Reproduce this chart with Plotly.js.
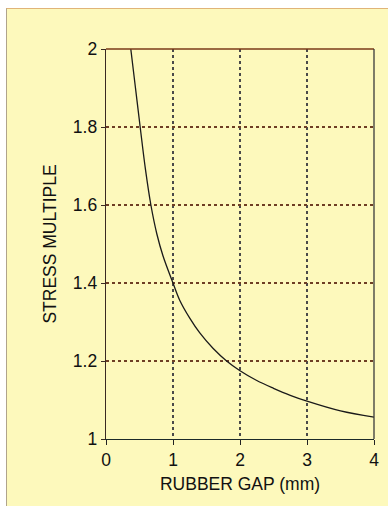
<!DOCTYPE html>
<html>
<head>
<meta charset="utf-8">
<script src="https://cdn.plot.ly/plotly-3.0.1.min.js"></script>
<style>
html,body{margin:0;padding:0;background:#ffffff;width:388px;height:506px;overflow:hidden;}
#chart{position:absolute;left:6px;top:8px;width:381px;height:497px;border-left:1px solid #b0a48c;border-top:1px solid #e0b478;}
</style>
</head>
<body>
<div id="chart"></div>
<script>
// Rubber gap (mm) vs stress multiple
const gap = [0.37, 0.44, 0.51, 0.59, 0.67, 0.76, 0.85, 1.0, 1.1, 1.25, 1.4, 1.6, 1.8, 2.0, 2.25, 2.5, 2.75, 3.0, 3.5, 4.0];
const stress = [2.0, 1.9, 1.80, 1.69, 1.60, 1.525, 1.47, 1.40, 1.356, 1.31, 1.272, 1.232, 1.20, 1.175, 1.15, 1.13, 1.112, 1.097, 1.072, 1.056];
const xTicks = [0, 1, 2, 3, 4];
const yTicks = [1, 1.2, 1.4, 1.6, 1.8, 2];
const yTickText = ["1", "1.2", "1.4", "1.6", "1.8", "2"];

const font = {family: "Liberation Sans, Arial, sans-serif", size: 17.5, color: "#111"};

Plotly.newPlot("chart", [{
  x: gap, y: stress, type: "scatter", mode: "lines",
  line: {color: "#1a1a1a", width: 1.3, shape: "spline", smoothing: 1},
  hoverinfo: "skip"
}], {
  width: 381, height: 497,
  margin: {l: 99, r: 14, t: 40, b: 67},
  paper_bgcolor: "#fdf9bc",
  plot_bgcolor: "#fdf9bc",
  showlegend: false,
  font: font,
  xaxis: {
    range: [0, 4], tickvals: xTicks, ticktext: xTicks.map(String),
    showgrid: true, gridcolor: "#4a4a4a", griddash: "dot", gridwidth: 1.2,
    showline: true, linecolor: "#1c2a28", linewidth: 1.3, mirror: false,
    ticks: "outside", ticklen: 5, tickcolor: "#222", tickwidth: 1,
    zeroline: false, tickfont: font, fixedrange: true,
    title: {text: "RUBBER GAP (mm)", font: font, standoff: 8}
  },
  yaxis: {
    range: [1, 2], tickvals: yTicks, ticktext: yTickText,
    showgrid: true, gridcolor: "#6e3e24", griddash: "dot", gridwidth: 1.2,
    showline: true, linecolor: "#3a2a22", linewidth: 1.3, mirror: false,
    ticks: "outside", ticklen: 4, tickcolor: "#3a2a22", tickwidth: 1,
    zeroline: false, tickfont: font, fixedrange: true,
    title: {text: "STRESS MULTIPLE", font: font, standoff: 11}
  },
  shapes: [
    {type: "line", xref: "paper", yref: "paper", x0: 0, x1: 1, y0: 1, y1: 1, line: {color: "#7a3a18", width: 1.6}},
    {type: "line", xref: "paper", yref: "paper", x0: 1, x1: 1, y0: 0, y1: 1, line: {color: "#3a3a3a", width: 1.3}}
  ]
}, {staticPlot: true, displayModeBar: false});
</script>
</body>
</html>
